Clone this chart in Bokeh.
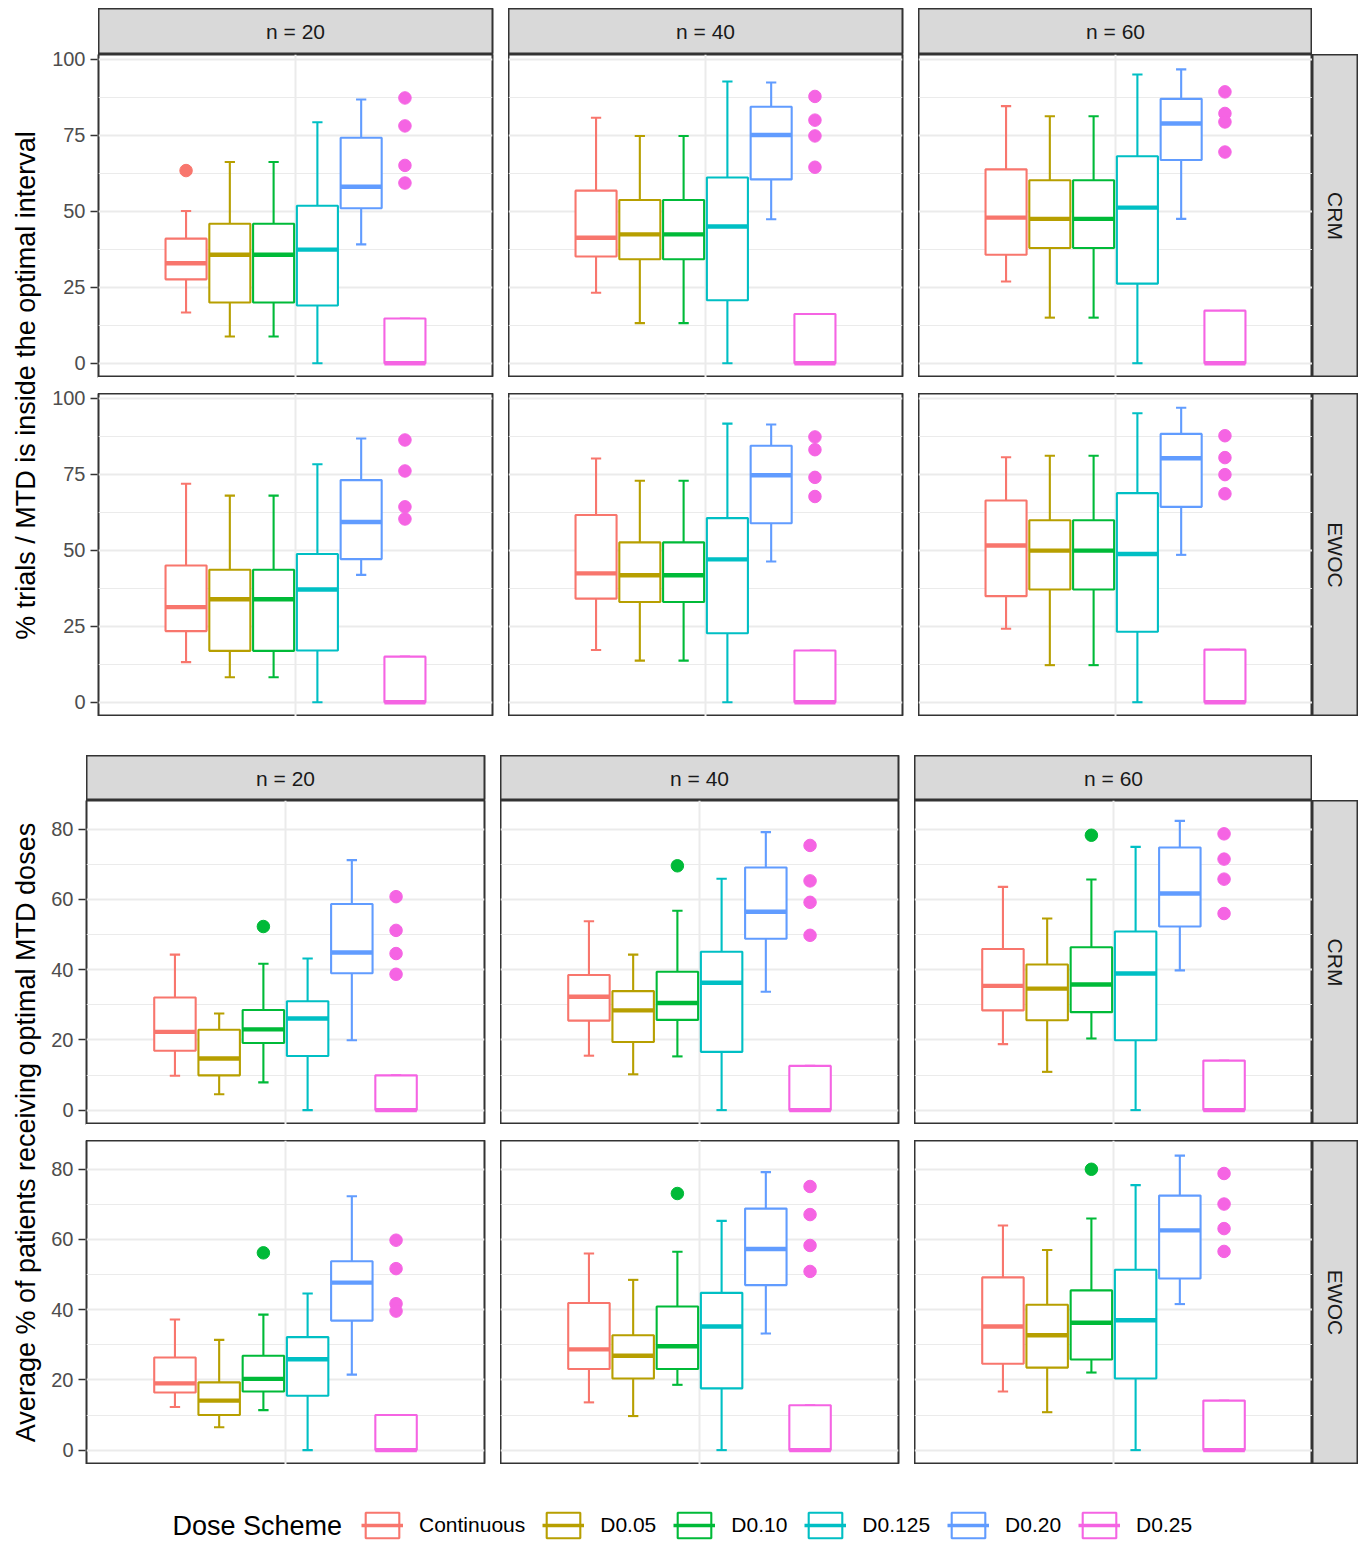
import math
from bokeh.plotting import figure
from bokeh.layouts import row, column
from bokeh.models import (Range1d, LinearAxis, FixedTicker, Grid, Label, Legend,
                          LegendItem, ColumnDataSource, Spacer)
from bokeh.embed import file_html
from bokeh.resources import INLINE

# ---------------- data ----------------
schemes = ["Continuous", "D0.05", "D0.10", "D0.125", "D0.20", "D0.25"]
colors = ["#F8766D", "#B79F00", "#00BA38", "#00BFC4", "#619CFF", "#F564E3"]
n_labels = ["n = 20", "n = 40", "n = 60"]
methods = ["CRM", "EWOC"]

# each tuple: (lower whisker, Q1, median, Q3, upper whisker) per dose scheme
# ---- % trials / MTD inside optimal interval ----
trials_crm_n20 = [(16.7, 27.6, 32.9, 41.0, 50.1), (8.8, 20.0, 35.7, 45.9, 66.2), (8.8, 20.0, 35.7, 45.9, 66.2),
                  (0.0, 19.0, 37.4, 51.8, 79.3), (39.1, 51.0, 58.1, 74.2, 86.8), (0.0, 0.0, 0.0, 14.7, 14.7)]
trials_crm_n20_out = [[63.4], [], [], [], [], [87.3, 78.1, 65.1, 59.3]]
trials_crm_n40 = [(23.2, 35.1, 41.3, 56.8, 80.8), (13.2, 34.2, 42.4, 53.7, 74.8), (13.2, 34.2, 42.4, 53.7, 74.8),
                  (0.0, 20.7, 45.0, 61.1, 92.7), (47.4, 60.5, 75.1, 84.4, 92.4), (0.0, 0.0, 0.0, 16.2, 16.2)]
trials_crm_n40_out = [[], [], [], [], [], [87.8, 80.0, 74.8, 64.5]]
trials_crm_n60 = [(26.9, 35.7, 47.9, 63.8, 84.6), (15.0, 37.9, 47.5, 60.2, 81.3), (15.0, 37.9, 47.5, 60.2, 81.3),
                  (0.0, 26.2, 51.2, 68.1, 95.0), (47.5, 66.9, 78.9, 87.0, 96.7), (0.0, 0.0, 0.0, 17.3, 17.3)]
trials_crm_n60_out = [[], [], [], [], [], [89.3, 82.2, 79.4, 69.5]]
trials_ewoc_n20 = [(13.2, 23.4, 31.3, 45.0, 71.9), (8.2, 16.9, 33.9, 43.6, 68.0), (8.2, 16.9, 33.9, 43.6, 68.0),
                   (0.0, 17.0, 37.1, 48.8, 78.3), (41.9, 47.1, 59.3, 73.1, 86.8), (0.0, 0.0, 0.0, 15.0, 15.0)]
trials_ewoc_n20_out = [[], [], [], [], [], [86.3, 76.1, 64.3, 60.3]]
trials_ewoc_n40 = [(17.2, 34.1, 42.4, 61.6, 80.2), (13.7, 33.0, 41.8, 52.6, 72.9), (13.7, 33.0, 41.8, 52.6, 72.9),
                   (0.0, 22.7, 47.0, 60.6, 91.7), (46.3, 58.9, 74.7, 84.4, 91.4), (0.0, 0.0, 0.0, 17.0, 17.0)]
trials_ewoc_n40_out = [[], [], [], [], [], [87.3, 83.1, 74.0, 67.7]]
trials_ewoc_n60 = [(24.2, 34.9, 51.6, 66.4, 80.6), (12.2, 37.1, 49.9, 59.9, 81.1), (12.2, 37.1, 49.9, 59.9, 81.1),
                   (0.0, 23.2, 48.8, 68.8, 95.1), (48.5, 64.3, 80.3, 88.3, 96.9), (0.0, 0.0, 0.0, 17.3, 17.3)]
trials_ewoc_n60_out = [[], [], [], [], [], [87.7, 80.5, 74.9, 68.6]]

# ---- Average % of patients receiving optimal MTD doses ----
pat_crm_n20 = [(9.8, 16.9, 22.3, 32.1, 44.3), (4.5, 9.9, 14.7, 22.9, 27.5), (7.9, 19.1, 23.0, 28.5, 41.7),
               (0.0, 15.4, 26.1, 31.0, 43.2), (19.9, 39.0, 44.9, 58.7, 71.2), (0.0, 0.0, 0.0, 9.9, 9.9)]
pat_crm_n20_out = [[], [], [52.3], [], [], [60.8, 51.2, 44.6, 38.7]]
pat_crm_n40 = [(15.5, 25.5, 32.3, 38.5, 53.8), (10.2, 19.4, 28.4, 33.9, 44.3), (15.3, 25.7, 30.5, 39.4, 56.8),
               (0.0, 16.6, 36.3, 45.1, 65.9), (33.7, 48.8, 56.5, 69.1, 79.2), (0.0, 0.0, 0.0, 12.6, 12.6)]
pat_crm_n40_out = [[], [], [69.6], [], [], [75.4, 65.3, 59.2, 49.8]]
pat_crm_n60 = [(18.8, 28.4, 35.4, 45.9, 63.6), (10.9, 25.6, 34.6, 41.5, 54.6), (20.4, 27.9, 35.8, 46.4, 65.7),
               (0.0, 19.9, 38.9, 50.9, 75.0), (39.8, 52.3, 61.7, 74.8, 82.4), (0.0, 0.0, 0.0, 14.1, 14.1)]
pat_crm_n60_out = [[], [], [78.3], [], [], [78.7, 71.5, 65.8, 56.0]]
pat_ewoc_n20 = [(12.3, 16.4, 19.0, 26.4, 37.2), (6.5, 10.0, 14.1, 19.3, 31.4), (11.4, 16.7, 20.3, 26.9, 38.6),
                (0.0, 15.5, 25.9, 32.2, 44.6), (21.5, 36.9, 47.7, 53.8, 72.3), (0.0, 0.0, 0.0, 10.0, 10.0)]
pat_ewoc_n20_out = [[], [], [56.2], [], [], [59.8, 51.7, 41.7, 39.6]]
pat_ewoc_n40 = [(13.6, 23.1, 28.7, 41.9, 56.0), (9.7, 20.4, 26.9, 32.7, 48.5), (18.6, 23.1, 29.6, 40.9, 56.5),
                (0.0, 17.6, 35.2, 44.8, 65.3), (33.2, 47.0, 57.3, 68.8, 79.2), (0.0, 0.0, 0.0, 12.8, 12.8)]
pat_ewoc_n40_out = [[], [], [73.1], [], [], [75.1, 67.1, 58.3, 50.9]]
pat_ewoc_n60 = [(16.7, 24.6, 35.2, 49.2, 64.0), (10.8, 23.5, 32.7, 41.4, 57.0), (22.1, 25.8, 36.3, 45.5, 66.0),
                (0.0, 20.4, 37.0, 51.4, 75.5), (41.6, 48.9, 62.6, 72.5, 83.9), (0.0, 0.0, 0.0, 14.1, 14.1)]
pat_ewoc_n60_out = [[], [], [80.0], [], [], [78.8, 70.1, 63.1, 56.6]]

trials_ticks = [0, 25, 50, 75, 100]
trials_minor = [12.5, 37.5, 62.5, 87.5]
pat_ticks = [0, 20, 40, 60, 80]
pat_minor = [10, 30, 50, 70]

# ---------------- styling ----------------
FONT = "Liberation Sans"
DODGE = 0.8 / 6
BOX_W = 0.125
CAP_W = BOX_W * 0.25
LW = 2.1
MED_W = 4.4
GAP = 16
MARGIN = 8
TITLE_W = 34
STRIP_W = 46
PAD = 8


def base_fig(w, h, xr, yr, left=0, right=0, top=0, bottom=0, **kw):
    p = figure(width=w + left + right, height=h + top + bottom, x_range=xr, y_range=yr,
               output_backend="svg", toolbar_location=None, title=None,
               x_axis_location=None, y_axis_location=None,
               min_border_left=left, min_border_right=right,
               min_border_top=top, min_border_bottom=bottom,
               border_fill_color="white", **kw)
    p.center = [r for r in p.center if not isinstance(r, Grid)]
    return p


def strip(text, w, h, left=0, right=0, vertical=False):
    s = base_fig(w, h, Range1d(0, 1), Range1d(0, 1), left=left, right=right,
                 background_fill_color="#d9d9d9", outline_line_color="#333333",
                 outline_line_width=2)
    s.add_layout(Label(x=0.5, y=0.5, text=text, text_align="center", text_baseline="middle",
                       angle=(-math.pi / 2 if vertical else 0), text_font=FONT,
                       text_font_size="21px", text_color="#1a1a1a"))
    return s


def axis_fig(yr, major, axis_w, fh, top, bottom):
    a = base_fig(1, fh, Range1d(0, 1), Range1d(*yr), left=axis_w - 1, top=top, bottom=bottom,
                 background_fill_color="#333333", outline_line_color=None)
    a.add_layout(LinearAxis(ticker=FixedTicker(ticks=major), axis_line_color=None,
                            major_tick_line_color="#333333", major_tick_line_width=1.5,
                            major_tick_out=7, major_tick_in=0, minor_tick_line_color=None,
                            major_label_text_font=FONT, major_label_text_font_size="20px",
                            major_label_text_color="#4d4d4d", major_label_standoff=5), "left")
    return a


def panel(stats, outs, yr, major, minor, w, h, right=0):
    p = base_fig(w, h, Range1d(0.4, 1.6), Range1d(*yr), right=right,
                 background_fill_color="white", outline_line_color="#333333",
                 outline_line_width=2)
    p.add_layout(Grid(dimension=1, ticker=FixedTicker(ticks=major, minor_ticks=minor),
                      grid_line_color="#ebebeb", grid_line_width=2,
                      minor_grid_line_color="#ebebeb", minor_grid_line_width=1.1))
    p.add_layout(Grid(dimension=0, ticker=FixedTicker(ticks=[1]),
                      grid_line_color="#ebebeb", grid_line_width=2))
    xs = [1 + (i - 2.5) * DODGE for i in range(len(schemes))]
    lo, q1, md, q3, hi = (list(v) for v in zip(*stats))
    src = ColumnDataSource(dict(
        x=xs, lo=lo, q1=q1, md=md, q3=q3, hi=hi, color=colors,
        bl=[x - BOX_W / 2 for x in xs], br=[x + BOX_W / 2 for x in xs],
        cl=[x - CAP_W / 2 for x in xs], cr=[x + CAP_W / 2 for x in xs]))
    p.segment(x0="x", y0="lo", x1="x", y1="q1", line_color="color", line_width=LW, source=src)
    p.segment(x0="x", y0="q3", x1="x", y1="hi", line_color="color", line_width=LW, source=src)
    p.segment(x0="cl", y0="lo", x1="cr", y1="lo", line_color="color", line_width=LW, source=src)
    p.segment(x0="cl", y0="hi", x1="cr", y1="hi", line_color="color", line_width=LW, source=src)
    p.quad(left="bl", right="br", bottom="q1", top="q3", fill_color="white",
           line_color="color", line_width=LW, source=src)
    p.segment(x0="bl", y0="md", x1="br", y1="md", line_color="color", line_width=MED_W, source=src)
    ox, oy, oc = [], [], []
    for i, vals in enumerate(outs):
        for v in vals:
            ox.append(xs[i]); oy.append(v); oc.append(colors[i])
    osrc = ColumnDataSource(dict(x=ox, y=oy, color=oc))
    p.scatter(x="x", y="y", size=12.5, fill_color="color", line_color="color", source=osrc)
    return p


def ytitle(text, h):
    t = base_fig(TITLE_W, h, Range1d(0, 1), Range1d(0, 1), outline_line_color=None)
    t.add_layout(Label(x=0.5, y=0.5, text=text, text_align="center", text_baseline="middle",
                       angle=math.pi / 2, text_font=FONT, text_font_size="27px",
                       text_color="black"))
    return t


def section(grid, outs, yr, major, minor, fw, fh, sh, axis_w, title):
    strips = row(strip(n_labels[0], fw, sh, right=GAP),
                 strip(n_labels[1], fw, sh, right=GAP),
                 strip(n_labels[2], fw, sh),
                 Spacer(width=STRIP_W, height=sh))
    prow = []
    for r in range(2):
        prow.append(row(
            panel(grid[r][0], outs[r][0], yr, major, minor, fw, fh, right=GAP),
            panel(grid[r][1], outs[r][1], yr, major, minor, fw, fh, right=GAP),
            panel(grid[r][2], outs[r][2], yr, major, minor, fw, fh),
            strip(methods[r], STRIP_W, fh, vertical=True)))
    inner_w = 3 * fw + 2 * GAP + STRIP_W
    body = column(strips, prow[0], Spacer(width=inner_w, height=GAP), prow[1])
    acol = column(Spacer(width=axis_w, height=sh - PAD),
                  axis_fig(yr, major, axis_w, fh, PAD, GAP - PAD),
                  axis_fig(yr, major, axis_w, fh, PAD, 0))
    tcol = column(Spacer(width=TITLE_W, height=sh), ytitle(title, 2 * fh + GAP))
    return row(tcol, acol, body)


sec1 = section([[trials_crm_n20, trials_crm_n40, trials_crm_n60],
                [trials_ewoc_n20, trials_ewoc_n40, trials_ewoc_n60]],
               [[trials_crm_n20_out, trials_crm_n40_out, trials_crm_n60_out],
                [trials_ewoc_n20_out, trials_ewoc_n40_out, trials_ewoc_n60_out]],
               (-4.7, 101.6), trials_ticks, trials_minor, 394, 323, 46, 56,
               "% trials / MTD is inside the optimal interval")

sec2 = section([[pat_crm_n20, pat_crm_n40, pat_crm_n60],
                [pat_ewoc_n20, pat_ewoc_n40, pat_ewoc_n60]],
               [[pat_crm_n20_out, pat_crm_n40_out, pat_crm_n60_out],
                [pat_ewoc_n20_out, pat_ewoc_n40_out, pat_ewoc_n60_out]],
               (-4.1, 88.2), pat_ticks, pat_minor, 398, 324, 45, 44,
               "Average % of patients receiving optimal MTD doses")

TOTAL_W = TITLE_W + 56 + 3 * 394 + 2 * GAP + STRIP_W
LEG_H = 78

# ---------------- legend ----------------
lf = base_fig(TOTAL_W, LEG_H, Range1d(0, TOTAL_W), Range1d(0, LEG_H), outline_line_color=None,
              background_fill_color="white")
nan = float("nan")
items = []
for name, c in zip(schemes, colors):
    rq = lf.quad(left=[nan], right=[nan], bottom=[nan], top=[nan], fill_color="white",
                 line_color=c, line_width=LW)
    rs = lf.segment(x0=[nan], y0=[nan], x1=[nan], y1=[nan], line_color=c, line_width=3.5)
    items.append(LegendItem(label=name, renderers=[rq, rs]))
legend = Legend(items=items, orientation="horizontal", location=(353, 1),
                glyph_width=42, glyph_height=32, label_height=32, label_standoff=16, spacing=17,
                padding=0, margin=0, border_line_color=None, background_fill_alpha=0,
                label_text_font=FONT, label_text_font_size="21px", label_text_color="black",
                label_text_baseline="middle")
lf.add_layout(legend)
lf.add_layout(Label(x=164, y=17, text="Dose Scheme", text_align="left", text_baseline="middle",
                    text_font=FONT, text_font_size="27px", text_color="black"))

inner = column(sec1, Spacer(width=TOTAL_W, height=39), sec2, lf)
layout = column(Spacer(width=TOTAL_W + MARGIN, height=MARGIN),
                row(Spacer(width=MARGIN, height=10), inner))

open("out.html", "w").write(file_html(layout, INLINE))
